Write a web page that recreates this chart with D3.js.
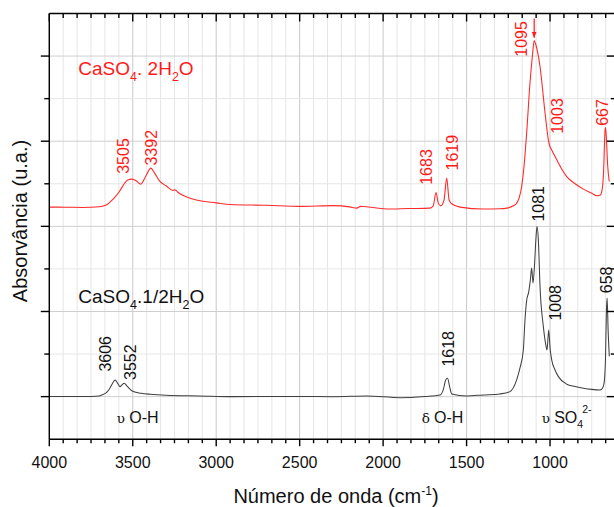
<!DOCTYPE html>
<html>
<head>
<meta charset="utf-8">
<script src="https://cdn.jsdelivr.net/npm/d3@7"></script>
<style>
  html, body { margin: 0; padding: 0; background: #fff; }
  svg { display: block; font-family: "Liberation Sans", Arial, sans-serif; }
</style>
</head>
<body>
<svg id="chart" width="614" height="507"></svg>
<script>
// ---- Data (wavenumber cm-1, absorbance in arbitrary units) ----
const gypsumWn = [4000,3900,3800,3700,3656,3620,3580,3550,3530,3505,3480,3452,3420,3392,3370,3337,3300,3260,3247,3230,3180,3097,3000,2917,2700,2497,2300,2200,2158,2135,2120,2050,1978,1850,1719,1700,1683,1670,1655,1635,1619,1605,1589,1539,1400,1300,1259,1220,1200,1185,1170,1155,1140,1120,1105,1095,1085,1060,1030,1010,1004,990,959,930,900,850,800,750,720,700,690,680,670,667,662,655,645];
const gypsumAbs = [2.226,2.225,2.222,2.231,2.254,2.315,2.409,2.503,2.544,2.555,2.536,2.495,2.597,2.684,2.628,2.527,2.476,2.423,2.429,2.400,2.347,2.300,2.276,2.256,2.247,2.235,2.244,2.229,2.214,2.235,2.233,2.218,2.203,2.209,2.214,2.241,2.397,2.276,2.241,2.312,2.567,2.312,2.265,2.226,2.203,2.206,2.214,2.241,2.272,2.335,2.468,2.723,3.098,3.686,4.015,4.183,4.133,3.878,3.334,3.016,2.957,2.898,2.780,2.674,2.585,2.500,2.437,2.388,2.359,2.365,2.409,2.606,3.137,3.161,3.016,2.723,2.527];

const hemiWn = [4000,3800,3700,3686,3660,3640,3620,3606,3590,3576,3565,3552,3530,3497,3450,3397,3300,3100,2898,2500,2300,2098,1897,1750,1658,1640,1625,1614,1600,1589,1499,1400,1300,1240,1200,1180,1160,1150,1140,1128,1118,1110,1102,1092,1085,1078,1070,1060,1040,1025,1018,1008,1000,990,970,950,900,850,800,750,700,685,676,668,662,658,652,645];
const hemiAbs = [0.002,0.002,0.008,0.020,0.043,0.090,0.161,0.196,0.155,0.117,0.137,0.157,0.114,0.059,0.040,0.028,0.016,0.008,0.000,0.002,-0.001,0.008,-0.012,0.002,0.020,0.079,0.196,0.216,0.102,0.032,0.008,0.020,0.032,0.059,0.196,0.337,0.548,0.901,1.131,1.228,1.369,1.510,1.334,1.581,1.840,2.001,1.840,1.292,0.822,0.605,0.548,0.783,0.572,0.431,0.313,0.235,0.146,0.120,0.099,0.085,0.079,0.102,0.161,0.431,1.011,1.158,0.784,0.473];

// peak labels: [text, wavenumber position, absorbance position of label bottom]
const gypsumPeakText = ["3505","3392","1683","1619","1095","1003","667"];
const gypsumPeakWn   = [3557,3387,1743,1584,1170,955,685];
const gypsumPeakAbs  = [2.617,2.714,2.488,2.656,3.992,3.087,3.181];

const hemiPeakText = ["3606","3552","1618","1081","1008","658"];
const hemiPeakWn   = [3666,3517,1613,1071,971,661];
const hemiPeakAbs  = [0.294,0.196,0.353,2.056,0.893,1.215];

// band assignment labels
const bandGreek = ["\u03C5","\u03B4","\u03C5"];
const bandText  = ["O-H","O-H","SO"];
const bandWn    = [3596,1769,1050];
const bandAbs   = -0.31;

const arrowWn = 1095, arrowFrom = 4.44, arrowTo = 4.215;

const xTickValues = [4000,3500,3000,2500,2000,1500,1000];

// ---- Layout ----
const svg = d3.select("#chart");
const x = d3.scaleLinear().domain([4000, 600]).range([49.3, 616.8]);
const y = d3.scaleLinear().domain([-0.5, 4.5]).range([439.2, 13.5]);
const [x0, x1] = x.range();
const [yb, yt] = y.range();

// minor tick values
const xMinor = d3.range(0, 41).map(i => 4000 - i * 500 / 6).filter(v => v >= 600);
const yMinor = d3.range(-0.5, 4.51, 0.5);

// grid
const grid = svg.append("g");
grid.selectAll("line.vx").data(xMinor).join("line")
  .attr("x1", d => x(d)).attr("x2", d => x(d)).attr("y1", yt).attr("y2", yb)
  .attr("stroke", d => (Math.abs(d % 500) < 1e-6 ? "#c9c9c9" : "#e6e6e6")).attr("stroke-width", 1);
grid.selectAll("line.hy").data(yMinor).join("line")
  .attr("x1", x0).attr("x2", x1).attr("y1", d => y(d)).attr("y2", d => y(d))
  .attr("stroke", d => (Math.abs(d % 1) < 1e-6 ? "#cfcfcf" : "#e6e6e6")).attr("stroke-width", 1);

// clip
svg.append("clipPath").attr("id", "clip").append("rect")
  .attr("x", x0).attr("y", yt).attr("width", x1 - x0).attr("height", yb - yt);

const line = d3.line().x(d => x(d[0])).y(d => y(d[1])).curve(d3.curveMonotoneX);
const plot = svg.append("g").attr("clip-path", "url(#clip)");
plot.append("path").datum(d3.zip(gypsumWn, gypsumAbs)).attr("d", line)
  .attr("fill", "none").attr("stroke", "#ff2a2a").attr("stroke-width", 1.1);
plot.append("path").datum(d3.zip(hemiWn, hemiAbs)).attr("d", line)
  .attr("fill", "none").attr("stroke", "#404040").attr("stroke-width", 1.05);

// axes
const ax = svg.append("g").attr("stroke", "#000").attr("stroke-width", 1.4);
ax.append("line").attr("x1", x0).attr("x2", x1).attr("y1", yb).attr("y2", yb);
ax.append("line").attr("x1", x0).attr("x2", x1).attr("y1", yt).attr("y2", yt);
ax.append("line").attr("x1", x0).attr("x2", x0).attr("y1", yt).attr("y2", yb);
ax.append("line").attr("x1", x1).attr("x2", x1).attr("y1", yt).attr("y2", yb);

const isMajorX = d => Math.abs(d % 500) < 1e-6;
const isMajorY = d => Math.abs(d % 1) < 1e-6;
// bottom ticks (outward) and top ticks (inward)
ax.selectAll("line.bt").data(xMinor).join("line")
  .attr("x1", d => x(d)).attr("x2", d => x(d))
  .attr("y1", yb).attr("y2", d => yb + (isMajorX(d) ? 7 : 4));
ax.selectAll("line.tt").data(xMinor).join("line")
  .attr("x1", d => x(d)).attr("x2", d => x(d))
  .attr("y1", yt).attr("y2", d => yt + (isMajorX(d) ? 8 : 4.5));
// left ticks (outward) and right ticks (inward)
ax.selectAll("line.lt").data(yMinor.filter(v => v > -0.5 && v < 4.5)).join("line")
  .attr("y1", d => y(d)).attr("y2", d => y(d))
  .attr("x1", x0).attr("x2", d => x0 - (isMajorY(d) ? 8.5 : 5));
ax.selectAll("line.rt").data(yMinor.filter(v => v > -0.5 && v < 4.5)).join("line")
  .attr("y1", d => y(d)).attr("y2", d => y(d))
  .attr("x1", x1).attr("x2", d => x1 - (isMajorY(d) ? 10 : 6));

// x tick labels
svg.append("g").selectAll("text").data(xTickValues).join("text")
  .attr("x", d => x(d)).attr("y", 467.5).attr("text-anchor", "middle")
  .attr("font-size", 16).attr("fill", "#111").text(d => d);

// axis titles
const xt = svg.append("text").attr("x", 336).attr("y", 503).attr("text-anchor", "middle")
  .attr("font-size", 20).attr("fill", "#111");
xt.append("tspan").text("Número de onda (cm");
xt.append("tspan").attr("font-size", 12).attr("dy", -8).text("-1");
xt.append("tspan").attr("dy", 8).text(")");

svg.append("text").attr("transform", "translate(27,221) rotate(-90)")
  .attr("text-anchor", "middle").attr("font-size", 20).attr("fill", "#111")
  .text("Absorvância (u.a.)");

// peak labels
function peakLabels(texts, wns, abss, color) {
  svg.append("g").selectAll("text").data(d3.zip(texts, wns, abss)).join("text")
    .attr("transform", d => `translate(${x(d[1]) + 5.8},${y(d[2])}) rotate(-90)`)
    .attr("font-size", 16).attr("fill", color).text(d => d[0]);
}
peakLabels(gypsumPeakText, gypsumPeakWn, gypsumPeakAbs, "#ff1a1a");
peakLabels(hemiPeakText, hemiPeakWn, hemiPeakAbs, "#111");

// compound labels
function compound(parts, wn, ab, color) {
  const t = svg.append("text").attr("x", x(wn)).attr("y", y(ab))
    .attr("font-size", 19).attr("fill", color);
  parts.forEach(p => {
    const s = t.append("tspan").text(p[0]);
    if (p[1] === "sub") s.attr("font-size", 12.5).attr("dy", 6);
    if (p[1] === "back") s.attr("dy", -6);
  });
}
compound([["CaSO"],["4","sub"],[". 2H","back"],["2","sub"],["O","back"]], 3826, 3.779, "#ff1a1a");
compound([["CaSO"],["4","sub"],[".1/2H","back"],["2","sub"],["O","back"]], 3826, 1.098, "#111");

// band labels
bandText.forEach((bt, i) => {
  const t = svg.append("text").attr("x", x(bandWn[i])).attr("y", y(bandAbs))
    .attr("font-size", 16).attr("fill", "#111");
  t.append("tspan").attr("font-family", "DejaVu Serif, serif").attr("font-size", 13.5).text(bandGreek[i] + " ");
  t.append("tspan").text(bt);
  if (bt === "SO") {
    t.append("tspan").attr("font-size", 10.5).attr("dy", 5).text("4");
    t.append("tspan").attr("font-size", 10.5).attr("dy", -15).attr("dx", -1).text("2-");
  }
});

// arrow at 1095
svg.append("defs").append("marker").attr("id", "ah")
  .attr("viewBox", "0 0 10 10").attr("refX", 10).attr("refY", 5)
  .attr("markerWidth", 5).attr("markerHeight", 5).attr("orient", "auto")
  .append("path").attr("d", "M0,1 L10,5 L0,9 Z").attr("fill", "#ff1a1a");
svg.append("line").attr("x1", x(arrowWn)).attr("x2", x(arrowWn))
  .attr("y1", y(arrowFrom)).attr("y2", y(arrowTo))
  .attr("stroke", "#ff1a1a").attr("stroke-width", 1.2).attr("marker-end", "url(#ah)");
</script>
</body>
</html>
